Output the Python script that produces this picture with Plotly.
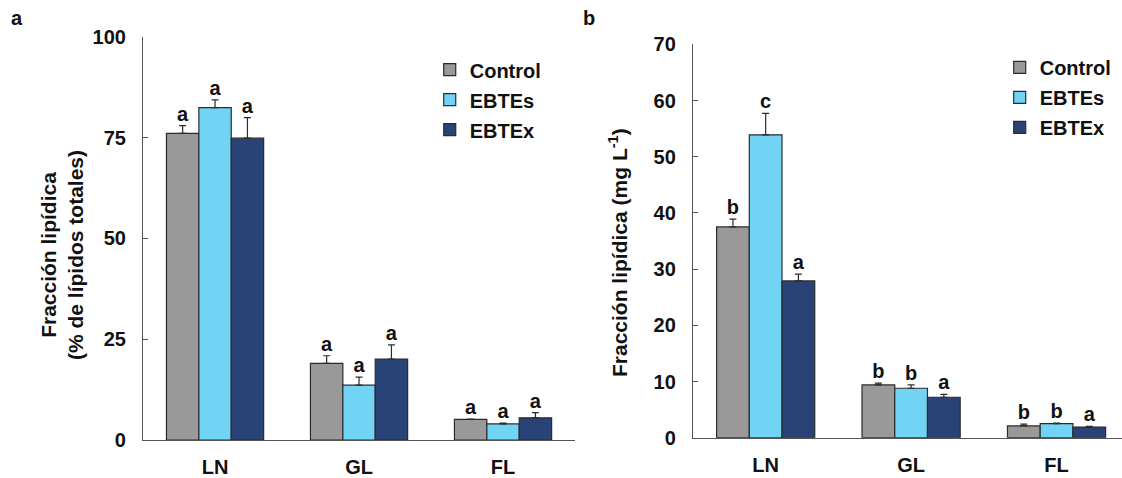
import plotly.graph_objects as go

categories = ["LN", "GL", "FL"]
series = ["Control", "EBTEs", "EBTEx"]

# Panel a: % of total lipids
a_control = [76.1, 19.0, 5.1]
a_ebtes = [82.5, 13.6, 4.0]
a_ebtex = [74.9, 20.1, 5.5]
a_control_err = [1.9, 1.9, 0.1]
a_ebtes_err = [1.9, 2.0, 0.2]
a_ebtex_err = [5.1, 3.5, 1.3]
a_control_lbl = ["a", "a", "a"]
a_ebtes_lbl = ["a", "a", "a"]
a_ebtex_lbl = ["a", "a", "a"]

# Panel b: mg L-1
b_control = [37.5, 9.4, 2.1]
b_ebtes = [53.9, 8.8, 2.5]
b_ebtex = [27.9, 7.2, 1.9]
b_control_err = [1.4, 0.3, 0.3]
b_ebtes_err = [3.8, 0.6, 0.1]
b_ebtex_err = [1.2, 0.5, 0.1]
b_control_lbl = ["b", "b", "b"]
b_ebtes_lbl = ["c", "b", "b"]
b_ebtex_lbl = ["a", "a", "a"]

a_ticks = [0, 25, 50, 75, 100]
b_ticks = [0, 10, 20, 30, 40, 50, 60, 70]

colors = ["#999999", "#72d4f5", "#2a4377"]
outline = "#2b2b2b"
FONT = "Liberation Sans, Arial, sans-serif"
BAR_W = 0.225

fig = go.Figure()

panels = [
    ("x", "y", "legend", [a_control, a_ebtes, a_ebtex],
     [a_control_err, a_ebtes_err, a_ebtex_err],
     [a_control_lbl, a_ebtes_lbl, a_ebtex_lbl]),
    ("x2", "y2", "legend2", [b_control, b_ebtes, b_ebtex],
     [b_control_err, b_ebtes_err, b_ebtex_err],
     [b_control_lbl, b_ebtes_lbl, b_ebtex_lbl]),
]

for xa, ya, leg, vals, errs, lbls in panels:
    for j, name in enumerate(series):
        xs = [i + (j - 1) * BAR_W for i in range(len(categories))]
        fig.add_trace(go.Bar(
            x=xs, y=vals[j], width=BAR_W, name="<b>%s</b>" % name,
            marker=dict(color=colors[j], line=dict(color=outline, width=1.2)),
            error_y=dict(type="data", symmetric=False, array=errs[j],
                         arrayminus=[0] * len(errs[j]), color=outline,
                         thickness=1.2, width=3.5),
            xaxis=xa, yaxis=ya, legend=leg, legendgroup=leg + name,
        ))
        tops = [v + e for v, e in zip(vals[j], errs[j])]
        fig.add_trace(go.Scatter(
            x=xs, y=tops, mode="text", text=lbls[j], textposition="top center",
            texttemplate="<b>%{text}</b>",
            textfont=dict(family=FONT, size=20, color="#111111"),
            showlegend=False, hoverinfo="skip", xaxis=xa, yaxis=ya,
            cliponaxis=False,
        ))

tickfont = dict(family=FONT, size=20, color="#111111")
common_x = dict(tickvals=[0, 1, 2], ticktext=["<b>%s</b>" % c for c in categories],
                showline=True, linecolor="#555555", linewidth=1.2, ticks="",
                showgrid=False, zeroline=False, tickfont=tickfont,
                ticklabelstandoff=9, fixedrange=True, automargin=False)
common_y = dict(showline=True, linecolor="#555555", linewidth=1.2, ticks="inside",
                ticklen=5, tickcolor="#555555", showgrid=False, zeroline=False,
                tickfont=tickfont, ticklabelstandoff=12, fixedrange=True,
                automargin=False)

legfont = dict(family=FONT, size=20, color="#111111")

fig.update_layout(
    width=1122, height=478,
    margin=dict(l=0, r=0, t=0, b=0, autoexpand=False),
    paper_bgcolor="white", plot_bgcolor="white",
    font=dict(family=FONT, color="#111111"),
    barmode="overlay",
    xaxis=dict(domain=[0.1275, 0.5125], range=[-0.5, 2.5], anchor="y", **common_x),
    yaxis=dict(domain=[0.0795, 0.9226], range=[0, 100], anchor="x",
               tickvals=a_ticks, ticktext=["<b>%d</b>" % t for t in a_ticks], **common_y),
    xaxis2=dict(domain=[0.6176, 1.0], range=[-0.5, 2.45], anchor="y2", **common_x),
    yaxis2=dict(domain=[0.0843, 0.9073], range=[0, 70], anchor="x2",
                tickvals=b_ticks, ticktext=["<b>%d</b>" % t for t in b_ticks], **common_y),
    legend=dict(x=0.383, y=0.895, xanchor="left", yanchor="top", font=legfont,
                bgcolor="rgba(0,0,0,0)", tracegroupgap=1, itemclick=False),
    legend2=dict(x=0.891, y=0.90, xanchor="left", yanchor="top", font=legfont,
                 bgcolor="rgba(0,0,0,0)", tracegroupgap=1, itemclick=False),
    showlegend=True,
    annotations=[
        dict(text="<b>a</b>", x=17 / 1122, y=1 - 18 / 478, xref="paper", yref="paper",
             xanchor="center", yanchor="middle", showarrow=False,
             font=dict(family=FONT, size=20)),
        dict(text="<b>b</b>", x=589 / 1122, y=1 - 18 / 478, xref="paper", yref="paper",
             xanchor="center", yanchor="middle", showarrow=False,
             font=dict(family=FONT, size=20)),
        dict(text="<b>Fracción lipídica<br>(% de lípidos totales)</b>", textangle=-90,
             x=62 / 1122, y=1 - 255 / 478, xref="paper", yref="paper", showarrow=False,
             xanchor="center", yanchor="middle", font=dict(family=FONT, size=21)),
        dict(text="<b>Fracción lipídica (mg L<sup>-1</sup>)</b>", textangle=-90,
             x=618 / 1122, y=1 - 253 / 478, xref="paper", yref="paper", showarrow=False,
             xanchor="center", yanchor="middle", font=dict(family=FONT, size=21)),
    ],
)

fig.write_html("out.html")
